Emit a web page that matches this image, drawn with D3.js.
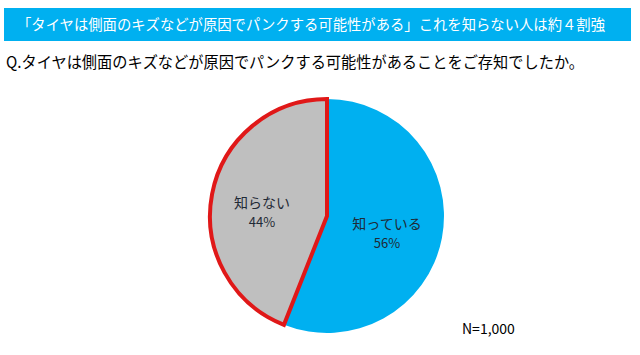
<!DOCTYPE html>
<html><head><meta charset="utf-8">
<script src="https://cdn.jsdelivr.net/npm/d3@7"></script>
<style>body{margin:0;background:#fff;}svg{display:block;}</style>
</head><body>
<svg id="c" width="640" height="355"></svg>
<script>
const titleText = "「タイヤは側面のキズなどが原因でパンクする可能性がある」これを知らない人は約４割強";
const questionText = "Q.タイヤは側面のキズなどが原因でパンクする可能性があることをご存知でしたか。";
const categories = ["知っている", "知らない"];
const values = [56, 44];
const colors = ["#00b0f0", "#bfbfbf"];
const sampleText = "N=1,000";

const svg = d3.select("#c");
const font = "'Noto Sans CJK JP', 'Noto Sans', sans-serif";

svg.append("rect").attr("x", 4).attr("y", 8).attr("width", 627).attr("height", 33).attr("fill", "#00b0f0");
svg.append("text").attr("x", 17).attr("y", 30).attr("fill", "#fff")
  .attr("font-family", font).attr("font-size", 14.5)
  .attr("textLength", 588).attr("lengthAdjust", "spacingAndGlyphs").text(titleText);
svg.append("text").attr("x", 6).attr("y", 68).attr("fill", "#000")
  .attr("font-family", font).attr("font-size", 15.5)
  .attr("textLength", 578).attr("lengthAdjust", "spacingAndGlyphs").text(questionText);

const cx = 327, cy = 216, r = 117;
const g = svg.append("g").attr("transform", `translate(${cx},${cy})`);
const data = categories.map((c, i) => ({cat: c, val: values[i], color: colors[i]}));
const pie = d3.pie().value(d => d.val).sort(null);
const arc = d3.arc().innerRadius(0).outerRadius(r);
const arcs = pie(data);
g.selectAll("path.s").data(arcs).enter().append("path").attr("class", "s")
  .attr("d", arc).attr("fill", d => d.data.color);
// highlight the "知らない" slice
g.append("path").attr("d", arc(arcs[1]))
  .attr("fill", "none").attr("stroke", "#e01818").attr("stroke-width", 4).attr("stroke-linejoin", "miter");

const labelPos = [[60, 13], [-65, -8]];
arcs.forEach((a, i) => {
  const t = g.append("text").attr("text-anchor", "middle").attr("fill", "#1f2a36")
    .attr("font-family", font);
  t.append("tspan").attr("x", labelPos[i][0]).attr("y", labelPos[i][1]).attr("font-size", 14).text(a.data.cat);
  t.append("tspan").attr("x", labelPos[i][0]).attr("y", labelPos[i][1] + 19).attr("font-size", 13).text(a.data.val + "%");
});

svg.append("text").attr("x", 462).attr("y", 334).attr("fill", "#000")
  .attr("font-family", font).attr("font-size", 14).text(sampleText);
</script>
</body></html>
